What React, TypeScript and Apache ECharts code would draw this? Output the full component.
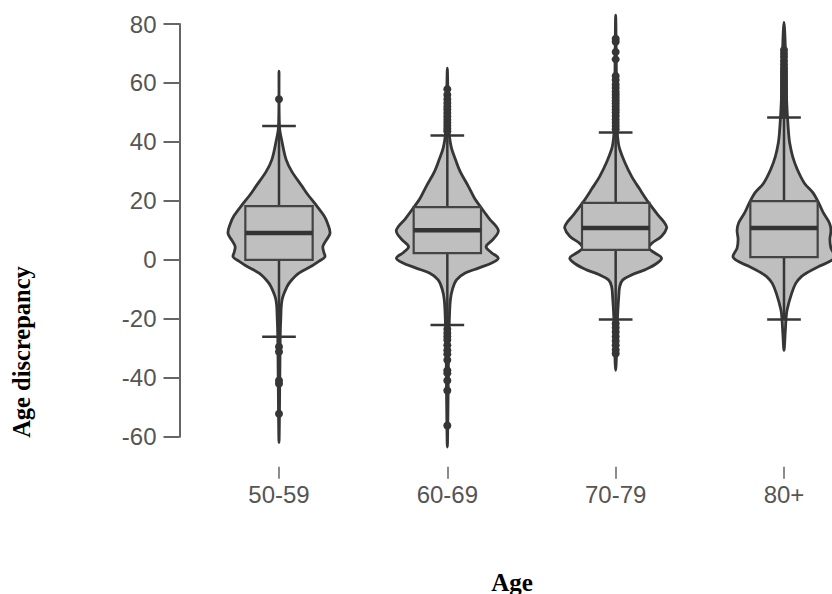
import React, { useEffect, useRef } from "react";
import * as echarts from "echarts";

// ---- data ----
const categories = ["50-59", "60-69", "70-79", "80+"];
const yTicks = { min: -60, max: 80, step: 20 };

// box stats: [lower whisker, Q1, median, Q3, upper whisker]
const box5059 = [-26.1, 0, 9.1, 18.2, 45.4];
const box6069 = [-22.1, 2.3, 10.0, 17.9, 42.2];
const box7079 = [-20.2, 3.4, 10.8, 19.3, 43.2];
const box80 = [-20.2, 0.9, 10.8, 19.9, 48.3];

// violin profiles: values (top -> bottom) and relative density (max = 1)
const violin5059Values = [64, 45, 40, 34, 30, 25, 22, 19.4, 15, 12, 9, 6.5, 4.5, 2.5, 1, -0.5, -2, -4.5, -7, -9, -13.6, -20, -26, -40, -62];
const violin5059Dens = [0, 0.01, 0.06, 0.14, 0.25, 0.45, 0.57, 0.69, 0.88, 0.96, 1, 0.92, 0.86, 0.88, 0.9, 0.78, 0.65, 0.39, 0.24, 0.16, 0.06, 0.035, 0.024, 0.016, 0];

const violin6069Values = [65, 58, 45, 42, 38, 34, 30, 25, 21, 18, 14, 10, 7, 4.5, 2.5, 0.6, -1, -2.8, -4.5, -6.8, -10, -13.6, -20, -30, -45, -63.5];
const violin6069Dens = [0, 0.01, 0.03, 0.04, 0.08, 0.16, 0.25, 0.41, 0.53, 0.65, 0.82, 1, 0.9, 0.76, 0.86, 1, 0.88, 0.61, 0.35, 0.18, 0.1, 0.06, 0.04, 0.024, 0.016, 0];

const violin7079Values = [83, 60, 44, 40, 37.5, 33, 28.4, 24, 19.3, 15, 12.5, 10.8, 8, 5.5, 4, 2.5, 0.6, -1.5, -3.4, -5, -6.8, -9, -12.5, -20, -30, -37.5];
const violin7079Dens = [0, 0.016, 0.03, 0.05, 0.08, 0.18, 0.31, 0.47, 0.65, 0.84, 0.96, 1, 0.9, 0.7, 0.65, 0.75, 0.9, 0.78, 0.57, 0.33, 0.14, 0.08, 0.06, 0.035, 0.02, 0];

const violin80Values = [80.6, 70, 55, 48, 43, 39.8, 35, 30.7, 26, 22.7, 19.3, 16, 12.5, 10, 7, 4, 1.1, -0.5, -2.3, -4, -5.7, -8, -11.4, -17, -20, -25, -30.7];
const violin80Dens = [0, 0.03, 0.05, 0.07, 0.09, 0.11, 0.17, 0.26, 0.4, 0.57, 0.68, 0.77, 0.89, 0.92, 0.9, 0.92, 1, 0.9, 0.68, 0.49, 0.34, 0.23, 0.15, 0.06, 0.04, 0.023, 0];

// outliers
const outliers5059 = [54.5, -29.5, -31.2, -40.9, -42, -52.2];
const outliers6069 = [57.9, 56, 54.5, 53.2, 52, 51, 49.8, 48.6, 47.5, 46.5, 45.5, 44.5, 43.6, -23.5, -24.8, -26, -27.2, -29, -30.7, -32, -34, -37.5, -38.5, -40.9, -44.3, -56.2];
const outliers7079 = [75, 74, 70.5, 68, 62.4, 61, 59.5, 58.3, 57, 56, 55, 54, 53, 52, 51, 50, 48.8, 47.6, 46.5, 45.4, 44.3, -21.6, -23, -24.5, -26, -27.5, -29, -30.5, -31.8];
const outliers80 = [71.2, 70, 68.8, 67.5, 66.3, 65, 64, 63, 62, 61, 60, 59, 58, 57, 56, 55, 54, 53, 52, 51, 50, 49.2];

const boxes = [box5059, box6069, box7079, box80];
const violinValues = [violin5059Values, violin6069Values, violin7079Values, violin80Values];
const violinDens = [violin5059Dens, violin6069Dens, violin7079Dens, violin80Dens];
const outliers = [outliers5059, outliers6069, outliers7079, outliers80];

// ---- styles ----
const VIOLIN_HALF = 0.303; // fraction of band width
const BOX_HALF = 0.2;
const CAP_HALF = 0.1;
const FILL = "#bfbfbf";
const DARK = "#363636";

export default function App() {
  const ref = useRef<HTMLDivElement>(null);

  useEffect(() => {
    if (!ref.current) return;
    const chart = echarts.init(ref.current, null, { renderer: "svg" });

    const customData = boxes.map((b, i) => [i, ...b]);
    const scatterData: number[][] = [];
    outliers.forEach((arr, i) => arr.forEach((v) => scatterData.push([i, v])));

    const renderItem = (params: any, api: any) => {
      const i = params.dataIndex;
      const cat = api.value(0);
      const p0 = api.coord([0, 0]);
      const p1 = api.coord([1, 0]);
      const band = Math.abs(p1[0] - p0[0]);
      const cx = api.coord([cat, 0])[0];
      const vals = violinValues[i];
      const dens = violinDens[i];
      const right = vals.map((v, k) => [cx + dens[k] * band * VIOLIN_HALF, api.coord([cat, v])[1]]);
      const leftAll = vals.map((v, k) => [cx - dens[k] * band * VIOLIN_HALF, api.coord([cat, v])[1]]).reverse();
      const left = leftAll.slice(1, leftAll.length - 1);
      const pts = right.concat(left);

      const yLo = api.coord([cat, api.value(1)])[1];
      const yQ1 = api.coord([cat, api.value(2)])[1];
      const yMed = api.coord([cat, api.value(3)])[1];
      const yQ3 = api.coord([cat, api.value(4)])[1];
      const yHi = api.coord([cat, api.value(5)])[1];
      const bw = band * BOX_HALF;
      const cw = band * CAP_HALF;

      return {
        type: "group",
        children: [
          {
            type: "polygon",
            shape: { points: pts, smooth: 0.35 },
            style: { fill: FILL, stroke: DARK, lineWidth: 2.8 },
          },
          {
            type: "line",
            shape: { x1: cx, y1: yLo, x2: cx, y2: yHi },
            style: { stroke: DARK, lineWidth: 2.5 },
          },
          {
            type: "rect",
            shape: { x: cx - bw, y: yQ3, width: 2 * bw, height: yQ1 - yQ3 },
            style: { fill: FILL, stroke: "#444", lineWidth: 2.2 },
          },
          {
            type: "line",
            shape: { x1: cx - bw, y1: yMed, x2: cx + bw, y2: yMed },
            style: { stroke: "#333", lineWidth: 4.5 },
          },
          {
            type: "line",
            shape: { x1: cx - cw, y1: yHi, x2: cx + cw, y2: yHi },
            style: { stroke: DARK, lineWidth: 2.5 },
          },
          {
            type: "line",
            shape: { x1: cx - cw, y1: yLo, x2: cx + cw, y2: yLo },
            style: { stroke: DARK, lineWidth: 2.5 },
          },
        ],
      };
    };

    chart.setOption({
      animation: false,
      grid: { left: 279, top: 24, width: 505, height: 412.7 },
      xAxis: {
        type: "category",
        data: categories,
        boundaryGap: false,
        offset: 30,
        axisLine: { show: true, onZero: false, lineStyle: { color: "#ffffff", width: 1 } },
        axisTick: { show: true, interval: 0, length: 12, lineStyle: { color: "#666", width: 1.5 } },
        axisLabel: { fontSize: 24, color: "#555", margin: 16, interval: 0, fontFamily: "Liberation Sans, Arial, sans-serif" },
        splitLine: { show: false },
      },
      yAxis: {
        type: "value",
        min: yTicks.min,
        max: yTicks.max,
        interval: yTicks.step,
        offset: 99.5,
        axisLine: { show: true, lineStyle: { color: "#666", width: 2 } },
        axisTick: { show: true, length: 16, lineStyle: { color: "#666", width: 2 } },
        axisLabel: { fontSize: 24, color: "#555", margin: 23, fontFamily: "Liberation Sans, Arial, sans-serif" },
        splitLine: { show: false },
      },
      graphic: [
        {
          type: "text",
          x: 21,
          y: 352,
          rotation: Math.PI / 2,
          style: {
            text: "Age discrepancy",
            font: 'bold 24.5px "Liberation Serif", "Times New Roman", serif',
            fill: "#000",
            align: "center",
            verticalAlign: "middle",
          },
        },
        {
          type: "text",
          x: 512,
          y: 582,
          style: {
            text: "Age",
            font: 'bold 25px "Liberation Serif", "Times New Roman", serif',
            fill: "#000",
            align: "center",
            verticalAlign: "middle",
          },
        },
      ],
      series: [
        {
          type: "custom",
          renderItem,
          data: customData,
          clip: false,
          z: 2,
        },
        {
          type: "scatter",
          data: scatterData,
          symbol: "circle",
          symbolSize: 8,
          itemStyle: { color: DARK, opacity: 1 },
          clip: false,
          z: 3,
        },
      ],
    });

    return () => chart.dispose();
  }, []);

  return <div ref={ref} style={{ position: "absolute", left: 0, top: 0, width: 832, height: 594 }} />;
}
